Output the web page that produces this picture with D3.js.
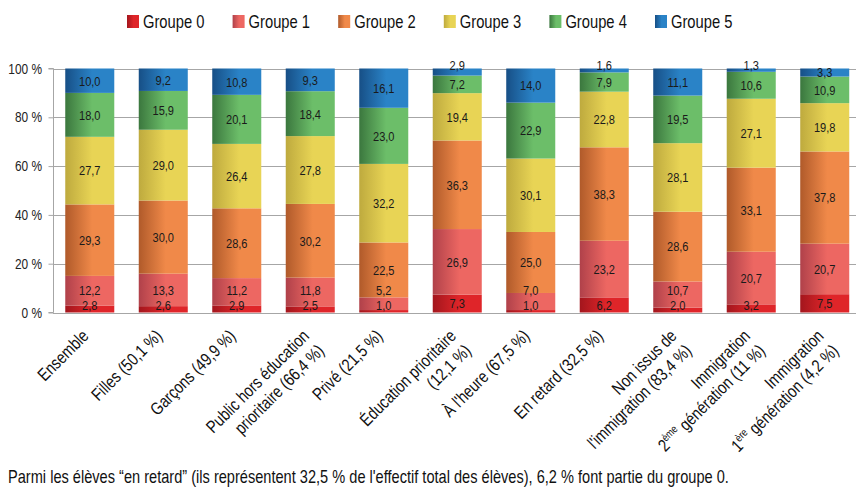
<!DOCTYPE html>
<html>
<head>
<meta charset="utf-8">
<script src="https://cdn.jsdelivr.net/npm/d3@7"></script>
<style>
  body { margin: 0; background: #fff; }
  svg { display: block; }
  text { font-family: "Liberation Sans", Arial, sans-serif; }
</style>
</head>
<body>
<svg id="chart" width="856" height="489"></svg>
<script>
// Categories: "|" breaks a line, {...} is set as a superscript
const categories = [
  "Ensemble",
  "Filles (50,1 %)",
  "Garçons (49,9 %)",
  "Public hors éducation|prioritaire (66,4 %)",
  "Privé (21,5 %)",
  "Éducation prioritaire|(12,1 %)",
  "À l'heure (67,5 %)",
  "En retard (32,5 %)",
  "Non issus de|l'immigration (83,4 %)",
  "Immigration|2{ème} génération (11 %)",
  "Immigration|1{ère} génération (4,2 %)"
];
const groups = ["Groupe 0", "Groupe 1", "Groupe 2", "Groupe 3", "Groupe 4", "Groupe 5"];

const groupe0 = [2.8, 2.6, 2.9, 2.5, 1.0, 7.3, 1.0, 6.2, 2.0, 3.2, 7.5];
const groupe1 = [12.2, 13.3, 11.2, 11.8, 5.2, 26.9, 7.0, 23.2, 10.7, 20.7, 20.7];
const groupe2 = [29.3, 30.0, 28.6, 30.2, 22.5, 36.3, 25.0, 38.3, 28.6, 33.1, 37.8];
const groupe3 = [27.7, 29.0, 26.4, 27.8, 32.2, 19.4, 30.1, 22.8, 28.1, 27.1, 19.8];
const groupe4 = [18.0, 15.9, 20.1, 18.4, 23.0, 7.2, 22.9, 7.9, 19.5, 10.6, 10.9];
const groupe5 = [10.0, 9.2, 10.8, 9.3, 16.1, 2.9, 14.0, 1.6, 11.1, 1.3, 3.3];

const yTickLabels = ["0 %", "20 %", "40 %", "60 %", "80 %", "100 %"];
const yTickValues = [0, 0.2, 0.4, 0.6, 0.8, 1.0];

const footnote = "Parmi les élèves “en retard” (ils représentent 32,5 % de l'effectif total des élèves), 6,2 % font partie du groupe 0.";

// Gradient colours per group: [left (shaded), right (light)]
const colors = [
  ["#a3161d", "#df2529"],
  ["#b0414a", "#ed6762"],
  ["#b05a2a", "#f08949"],
  ["#beaa3e", "#e8d455"],
  ["#3b773e", "#6cbe69"],
  ["#174f86", "#2a83c7"]
];

// Condensed look: Liberation Sans squeezed horizontally
const NARROW = 0.82;

const seriesValues = [groupe0, groupe1, groupe2, groupe3, groupe4, groupe5];
const rows = categories.map((c, i) => {
  const r = { cat: c };
  groups.forEach((g, k) => { r[g] = seriesValues[k][i]; });
  return r;
});

const svg = d3.select("#chart");
const W = 856, H = 489;
const plotLeft = 53, plotRight = 861.5, plotTop = 68.5, plotBottom = 312.5;

const x = d3.scaleBand().domain(categories).range([plotLeft, plotRight])
  .paddingInner(0.333).paddingOuter(0.1667);
const y = d3.scaleLinear().domain([0, 1]).range([plotBottom, plotTop]);

// Gradients
const defs = svg.append("defs");
colors.forEach((c, k) => {
  const lg = defs.append("linearGradient").attr("id", "grad" + k)
    .attr("x1", 0).attr("x2", 1).attr("y1", 0).attr("y2", 0);
  lg.append("stop").attr("offset", 0).attr("stop-color", c[0]);
  lg.append("stop").attr("offset", 0.55).attr("stop-color", c[1]);
  lg.append("stop").attr("offset", 1).attr("stop-color", c[1]);
});

// Grid lines
svg.append("g").selectAll("line").data(yTickValues).join("line")
  .attr("x1", plotLeft).attr("x2", W)
  .attr("y1", d => Math.round(y(d)) + 0.5).attr("y2", d => Math.round(y(d)) + 0.5)
  .attr("stroke", "#a6a6a6").attr("stroke-width", 1);

// Y axis
const yAxis = d3.axisLeft(y).tickValues(yTickValues)
  .tickFormat((d, i) => yTickLabels[i]).tickSize(5).tickPadding(6);
const gy = svg.append("g").attr("transform", `translate(${plotLeft + 0.5},0)`).call(yAxis);
gy.select(".domain").attr("stroke", "#a6a6a6").attr("d", `M-5,${y(1)}H0V${y(0)}H-5`);
gy.selectAll(".tick line").attr("stroke", "#a6a6a6");
gy.selectAll(".tick text").attr("fill", "#222")
  .style("font-size", "14.5px").style("font-family", '"Liberation Sans", Arial, sans-serif')
  .attr("x", 0).attr("transform", `translate(-11.5,0) scale(${NARROW},1)`);

// Stacked, normalised bars
const stack = d3.stack().keys(groups).offset(d3.stackOffsetExpand);
const series = stack(rows);

const gBars = svg.append("g");
series.forEach((s, k) => {
  gBars.append("g").selectAll("rect").data(s).join("rect")
    .attr("x", d => x(d.data.cat))
    .attr("width", x.bandwidth())
    .attr("y", d => y(d[1]))
    .attr("height", d => y(d[0]) - y(d[1]))
    .attr("fill", `url(#grad${k})`);
});

// Value labels, nudged apart when segments are thin
const gLab = svg.append("g").style("font-size", "13.5px").attr("fill", "#1a1a1a");
rows.forEach((r, i) => {
  const cx = x(r.cat) + x.bandwidth() / 2;
  const centers = series.map(s => (y(s[i][0]) + y(s[i][1])) / 2);
  const pos = centers.slice();
  pos[0] = Math.min(centers[0], plotBottom - 7.5);
  pos[1] = Math.min(centers[1], pos[0] - 15);
  const v5 = r[groups[5]];
  pos[5] = v5 < 3 ? y(1) - 3 : Math.min(centers[5], pos[4] - 17);
  groups.forEach((g, k) => {
    gLab.append("text")
      .attr("transform", `translate(${cx},${pos[k]}) scale(${NARROW},1)`)
      .attr("text-anchor", "middle").attr("dy", "0.36em")
      .text(d3.format(".1f")(r[g]).replace(".", ","));
  });
});

// Category labels, rotated
const gX = svg.append("g").attr("fill", "#111").style("font-size", "17.5px");
const lineH = 21;
categories.forEach(c => {
  const cx = x(c) + x.bandwidth() / 2;
  const t = gX.append("text")
    .attr("text-anchor", "end")
    .attr("transform", `translate(${cx},337) rotate(-45) scale(${NARROW},1)`);
  c.split("|").forEach((line, li) => {
    const tl = t.append("tspan").attr("x", 0).attr("y", li * lineH);
    const parts = line.split(/(\{[^}]*\})/).filter(p => p.length);
    parts.forEach((p, pi) => {
      if (p.startsWith("{")) {
        tl.append("tspan").text(p.slice(1, -1))
          .style("font-size", "11px").attr("dy", "-7");
      } else {
        const sp = tl.append("tspan").text(p);
        if (pi > 0) sp.attr("dy", "7");
      }
    });
  });
});

// Legend
const gLeg = svg.append("g").style("font-size", "18px");
groups.forEach((g, k) => {
  const lx = 127 + k * 105.6;
  gLeg.append("rect").attr("x", lx).attr("y", 15).attr("width", 12).attr("height", 13)
    .attr("fill", `url(#grad${k})`);
  gLeg.append("text").attr("transform", `translate(${lx + 16},28) scale(${NARROW},1)`)
    .attr("fill", "#111").text(g);
});

// Footnote
svg.append("text").attr("transform", `translate(8,483) scale(${NARROW},1)`)
  .attr("fill", "#111").style("font-size", "17.8px").text(footnote);
</script>
</body>
</html>
